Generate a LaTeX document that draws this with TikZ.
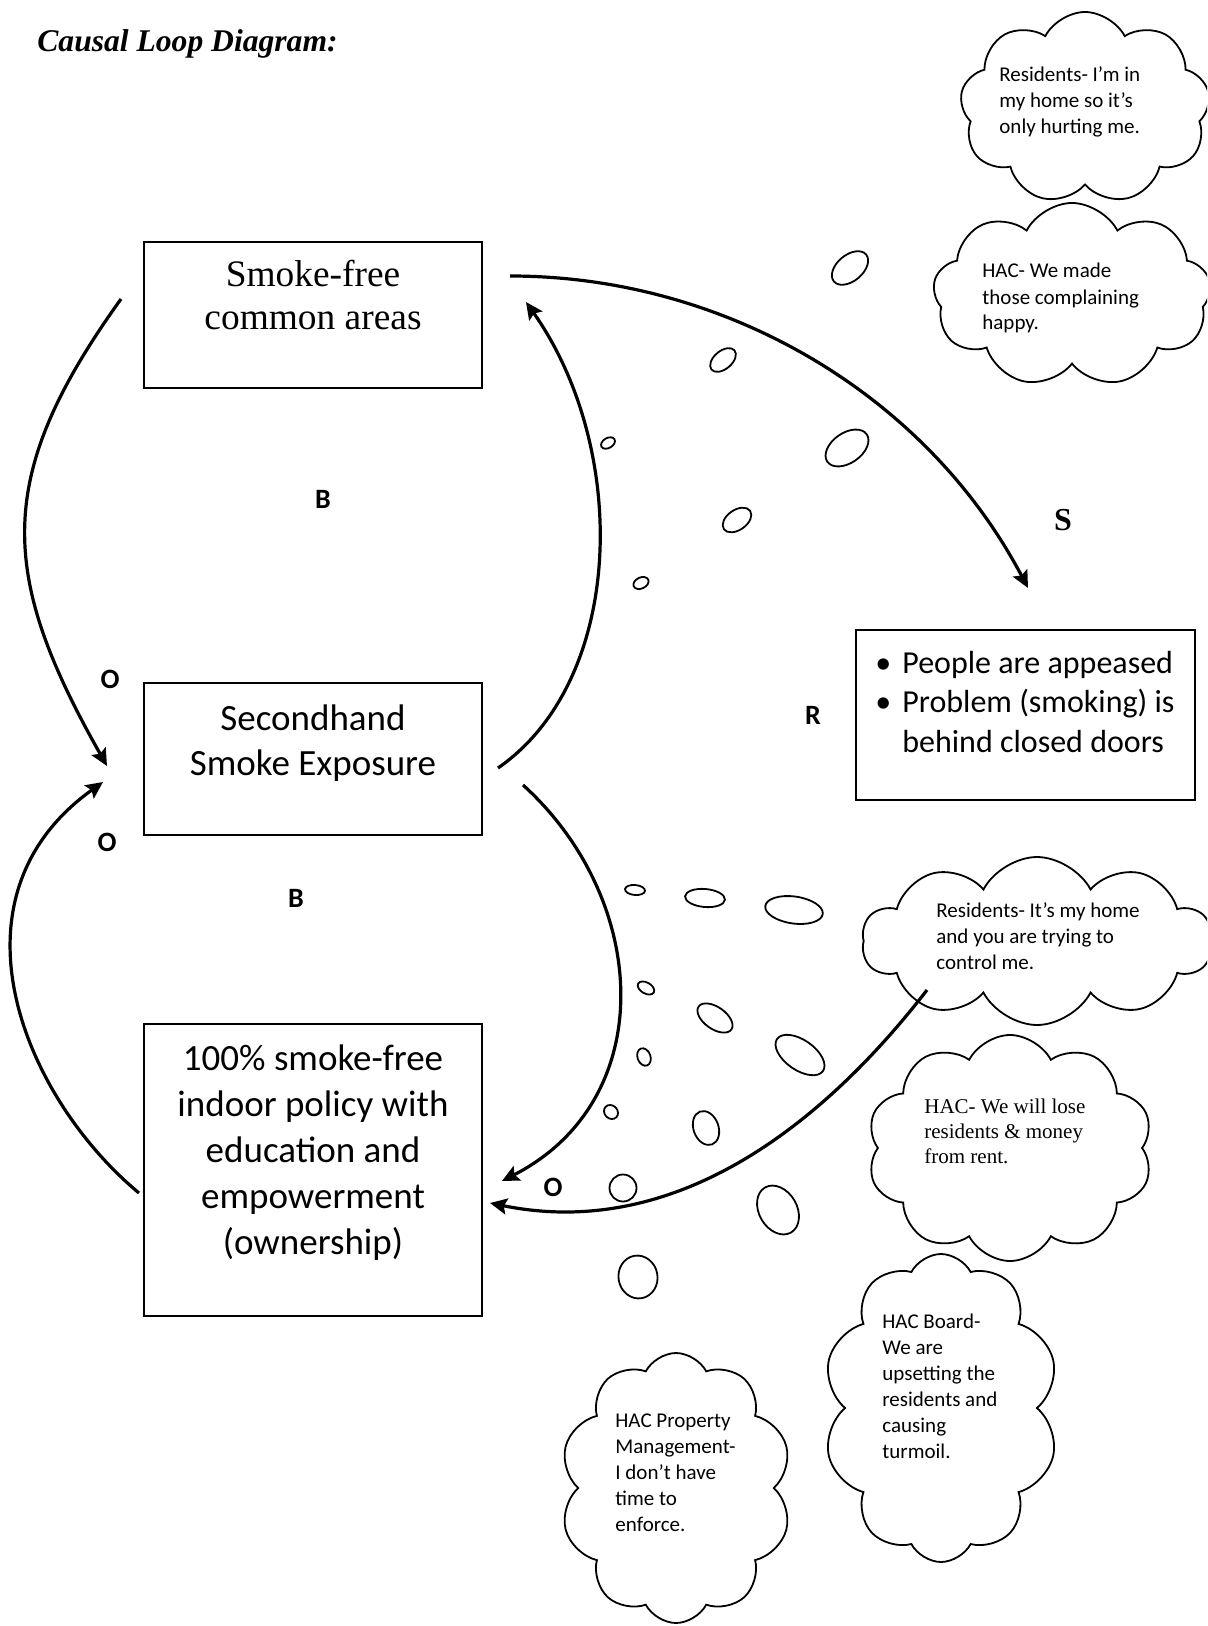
\documentclass[tikz,border=0pt]{standalone}
\usepackage{fontspec}
\setmainfont{Liberation Serif}
\newfontfamily\calibri{Carlito}
\usetikzlibrary{arrows.meta,shapes.symbols}
\begin{document}
\begin{tikzpicture}[x=0.5pt,y=-0.5pt,
  box/.style={draw, line width=0.9pt, inner sep=0pt},
  flow/.style={line width=1.6pt, -{Stealth[length=8.5pt,width=8pt,inset=1.5pt]}},
  bubble/.style={line width=0.9pt},
  cloudsh/.style={draw, cloud, cloud puffs=9, cloud puff arc=125, cloud ignores aspect, line width=0.9pt, inner sep=0pt},
  cloudtxt/.style={font=\calibri\fontsize{10.5}{13}\selectfont, align=left, inner sep=0pt, anchor=base west},
  cloudtxtserif/.style={font=\fontsize{10.5}{12.5}\selectfont, align=left, inner sep=0pt, anchor=base west},
  boxtxtserif/.style={font=\fontsize{18.7}{21.5}\selectfont, align=center, inner sep=0pt, anchor=base},
  boxtxt/.style={font=\calibri\fontsize{18.5}{23}\selectfont, align=center, inner sep=0pt, anchor=base},
  lbl/.style={font=\calibri\bfseries\fontsize{14}{16}\selectfont, inner sep=0pt},
  lblserif/.style={font=\bfseries\fontsize{16}{18}\selectfont, inner sep=0pt}
]
\useasboundingbox (0,0) rectangle (1207,1626);
\fill[white] (0,0) rectangle (1207,1626);
\clip (0,0) rectangle (1207,1626);

% title
\node[anchor=base west, inner sep=0pt, font=\bfseries\itshape\fontsize{15.8}{18}\selectfont] (title) at (37,52) {Causal Loop Diagram:};

% boxes (text nodes anchored at the baseline of their last line)
\node[box, minimum width=169pt, minimum height=73pt] (sfca) at (313,315) {};
\node[boxtxtserif] (sfcaT) at (313,330) {Smoke-free\\common areas};

\node[box, minimum width=169pt, minimum height=76pt] (shse) at (313,759) {};
\node[boxtxt, font=\calibri\fontsize{18.5}{22.5}\selectfont] (shseT) at (313,775) {Secondhand\\Smoke Exposure};

\node[box, minimum width=169pt, minimum height=146pt] (pol) at (313,1170) {};
\node[boxtxt] (polT) at (313,1254) {100\% smoke-free\\indoor policy with\\education and\\empowerment\\(ownership)};

\node[box, minimum width=169.5pt, minimum height=85pt] (app) at (1025.5,715) {};
\node[anchor=base west, inner sep=0pt, font=\calibri\fontsize{16}{19.75}\selectfont] (appT) at (875,673)
  {\begin{tabular}[t]{@{}l@{\hspace{5.5pt}}l@{}}•&People are appeased\\ •&Problem (smoking) is\\ &behind closed doors\end{tabular}};

% labels
\node[lbl] (B1) at (323,499) {B};
\node[lbl] (B2) at (296,898) {B};
\node[lbl] (O1) at (110,679) {O};
\node[lbl] (O2) at (107,842) {O};
\node[lbl] (R) at (813,715) {R};
\node[lbl] (O3) at (553,1187) {O};
\node[lblserif] (S) at (1063,520) {S};

% clouds
\node[cloudsh, minimum width=125pt, minimum height=96pt] (c1) at (1085,108) {};
\node[cloudtxt] (c1T) at (999,134) {Residents- I’m in\\my home so it’s\\only hurting me.};

\node[cloudsh, minimum width=139pt, minimum height=92pt] (c2) at (1072,295) {};
\node[cloudtxt] (c2T) at (982,330) {HAC- We made\\those complaining\\happy.};

\node[cloudsh, cloud puffs=10, minimum width=175pt, minimum height=84pt] (c3) at (1037,941) {};
\node[cloudtxt] (c3T) at (936,969) {Residents- It’s my home\\and you are trying to\\control me.};

\node[cloudsh, cloud puffs=10, minimum width=143pt, minimum height=113pt] (c4) at (1010,1148) {};
\node[cloudtxtserif] (c4T) at (924,1163) {HAC- We will lose\\residents \& money\\from rent.};

\node[cloudsh, cloud puffs=10, minimum width=118pt, minimum height=154pt] (c5) at (941,1408) {};
\node[cloudtxt] (c5T) at (882,1458) {HAC Board-\\We are\\upsetting the\\residents and\\causing\\turmoil.};

\node[cloudsh, cloud puffs=10, minimum width=116pt, minimum height=135pt] (c6) at (676,1488) {};
\node[cloudtxt] (c6T) at (615,1531) {HAC Property\\Management-\\I don’t have\\time to\\enforce.};

% connector end points
\coordinate (a1s) at (121,299);  \coordinate (a1e) at (107,766);
\coordinate (a2s) at (139,1193); \coordinate (a2e) at (103,782);
\coordinate (a3s) at (498,768);  \coordinate (a3e) at (526,302);
\coordinate (a4s) at (523,785);  \coordinate (a4e) at (502,1181);
\coordinate (a5s) at (510,276);  \coordinate (a5e) at (1028,588);
\coordinate (a6s) at (927,990);  \coordinate (a6e) at (490,1203);

\draw[flow] (a1s) .. controls (-7,477) and (-1,575) .. (a1e);
\draw[flow] (a2s) .. controls (23.5,1097) and (-59,898) .. (a2e);
\draw[flow] (a3s) .. controls (625,680) and (630,450) .. (a3e);
\draw[flow] (a4s) .. controls (650,900) and (660,1100) .. (a4e);
\draw[flow] (a5s) .. controls (727,276) and (927,396) .. (a5e);
\draw[flow] (a6s) .. controls (835,1109) and (686,1243) .. (a6e);

% thought bubbles (upper)
\draw[bubble, rotate around={40:(850,268)}] (850,268) ellipse [x radius=21, y radius=13];
\draw[bubble, rotate around={40:(723,360)}] (723,360) ellipse [x radius=15, y radius=9];
\draw[bubble, rotate around={30:(608,443)}] (608,443) ellipse [x radius=7.5, y radius=5];
\draw[bubble, rotate around={35:(847,448)}] (847,448) ellipse [x radius=24, y radius=15];
\draw[bubble, rotate around={35:(737,520)}] (737,520) ellipse [x radius=16, y radius=10];
\draw[bubble, rotate around={25:(641,583)}] (641,583) ellipse [x radius=8, y radius=5.5];
% thought bubbles (lower)
\draw[bubble, rotate around={-5:(635,890)}] (635,890) ellipse [x radius=10, y radius=5];
\draw[bubble, rotate around={-5:(705,898)}] (705,898) ellipse [x radius=20, y radius=9];
\draw[bubble, rotate around={-8:(794,910)}] (794,910) ellipse [x radius=29, y radius=13.5];
\draw[bubble, rotate around={-30:(646,988)}] (646,988) ellipse [x radius=9, y radius=5.5];
\draw[bubble, rotate around={-35:(715,1018)}] (715,1018) ellipse [x radius=20, y radius=11];
\draw[bubble, rotate around={-70:(644,1057)}] (644,1057) ellipse [x radius=9, y radius=6.5];
\draw[bubble, rotate around={-35:(800,1055)}] (800,1055) ellipse [x radius=28, y radius=15];
\draw[bubble, rotate around={-45:(611,1112)}] (611,1112) ellipse [x radius=7.5, y radius=6.5];
\draw[bubble, rotate around={-70:(706,1128)}] (706,1128) ellipse [x radius=17.5, y radius=12.5];
\draw[bubble] (623,1188) circle [radius=13.5];
\draw[bubble, rotate around={-60:(778,1210)}] (778,1210) ellipse [x radius=26, y radius=19];
\draw[bubble, rotate around={-80:(638,1277)}] (638,1277) ellipse [x radius=21.5, y radius=19.5];
\end{tikzpicture}
\end{document}
